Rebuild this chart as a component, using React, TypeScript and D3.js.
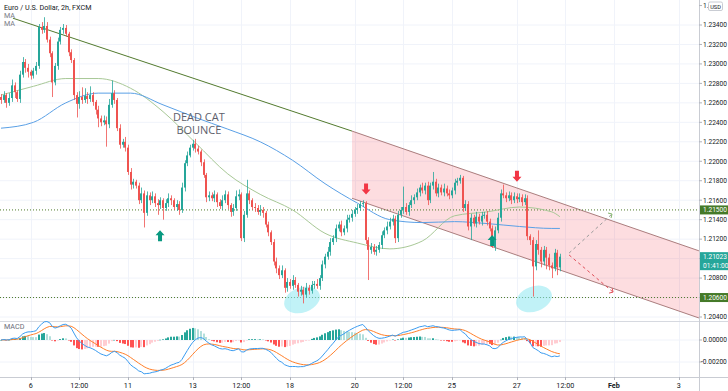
import React from 'react';
import * as d3 from 'd3';

// ---------- DATA ----------
const firstOpen = 1.2266;
const closes = [
  1.2263, 1.2268, 1.2260, 1.2265, 1.2278, 1.2271, 1.2264, 1.2289, 1.2302, 1.2296,
  1.2292, 1.2288, 1.2293, 1.2298, 1.2338, 1.2335, 1.2339, 1.2325, 1.2311, 1.2281,
  1.2298, 1.2323, 1.2335, 1.2337, 1.2331, 1.2312, 1.2304, 1.2268, 1.2259, 1.2266,
  1.2263, 1.2267, 1.2264, 1.2268, 1.2261, 1.2253, 1.2244, 1.2240, 1.2242, 1.2238,
  1.2258, 1.2270, 1.2263, 1.2234, 1.2217, 1.2220, 1.2214, 1.2189, 1.2176, 1.2179,
  1.2175, 1.2160, 1.2167, 1.2147, 1.2165, 1.2160, 1.2164, 1.2157, 1.2155, 1.2160,
  1.2152, 1.2157, 1.2162, 1.2160, 1.2153, 1.2156, 1.2150, 1.2173, 1.2198, 1.2206,
  1.2214, 1.2218, 1.2213, 1.2210, 1.2199, 1.2186, 1.2163, 1.2165, 1.2162, 1.2166,
  1.2158, 1.2154, 1.2160, 1.2166, 1.2155, 1.2148, 1.2152, 1.2164, 1.2166, 1.2121,
  1.2145, 1.2167, 1.2160, 1.2153, 1.2152, 1.2148, 1.2150, 1.2147, 1.2135, 1.2127,
  1.2117, 1.2097, 1.2090, 1.2083, 1.2088, 1.2070, 1.2076, 1.2072, 1.2078, 1.2073,
  1.2066, 1.2068, 1.2063, 1.2070, 1.2067, 1.2073, 1.2074, 1.2072, 1.2080, 1.2094,
  1.2102, 1.2107, 1.2117, 1.2121, 1.2131, 1.2135, 1.2127, 1.2131, 1.2140, 1.2142,
  1.2146, 1.2150, 1.2152, 1.2156, 1.2157, 1.2119, 1.2109, 1.2112, 1.2107, 1.2109,
  1.2114, 1.2124, 1.2129, 1.2133, 1.2138, 1.2141, 1.2121, 1.2145, 1.2150, 1.2153,
  1.2148, 1.2155, 1.2160, 1.2163, 1.2168, 1.2173, 1.2170, 1.2175, 1.2160, 1.2175,
  1.2179, 1.2167, 1.2173, 1.2168, 1.2172, 1.2167, 1.2165, 1.2170, 1.2178, 1.2180,
  1.2183, 1.2152, 1.2156, 1.2133, 1.2142, 1.2136, 1.2143, 1.2138, 1.2144, 1.2145,
  1.2138, 1.2131, 1.2112, 1.2129, 1.2142, 1.2167, 1.2165, 1.2162, 1.2165, 1.2160,
  1.2164, 1.2161, 1.2163, 1.2158, 1.2162, 1.2123, 1.2119, 1.2092, 1.2115, 1.2109,
  1.2097, 1.2109, 1.2101, 1.2093, 1.2090, 1.2106, 1.2091, 1.2102,
];
// wick lengths in pips above the body top / below the body bottom
const wickUp = [
  3, 4, 2, 5, 6, 3, 2, 4, 5, 3, 4, 2, 3, 4, 3, 5, 9, 4, 3, 2,
  3, 4, 3, 4, 3, 2, 3, 2, 3, 6, 10, 8, 4, 9, 3, 2, 4, 3, 5, 4,
  6, 13, 3, 2, 4, 3, 5, 3, 4, 3, 2, 3, 6, 3, 4, 3, 5, 3, 4, 3,
  2, 4, 5, 3, 2, 4, 3, 5, 3, 4, 3, 4, 5, 3, 2, 3, 2, 4, 3, 4,
  2, 3, 5, 4, 3, 2, 4, 6, 5, 2, 4, 14, 3, 2, 4, 3, 5, 3, 2, 3,
  2, 3, 4, 3, 5, 2, 4, 3, 5, 3, 2, 4, 3, 5, 3, 4, 3, 5, 3, 4,
  3, 5, 4, 3, 4, 3, 4, 3, 5, 3, 4, 3, 4, 3, 3, 2, 3, 4, 3, 4,
  3, 4, 3, 5, 4, 4, 3, 4, 3, 21, 4, 3, 5, 3, 4, 3, 5, 3, 4, 3,
  10, 3, 4, 3, 5, 3, 4, 3, 4, 3, 3, 2, 4, 3, 4, 3, 5, 3, 4, 3,
  4, 3, 3, 4, 5, 4, 9, 3, 4, 3, 4, 3, 4, 3, 4, 3, 2, 3, 4, 14,
  3, 4, 3, 4, 3, 4, 3, 3,
];
const wickDn = [
  4, 3, 5, 3, 4, 6, 3, 4, 3, 5, 6, 4, 3, 4, 3, 4, 3, 3, 4, 15,
  3, 4, 3, 4, 3, 4, 3, 5, 14, 5, 4, 3, 5, 3, 4, 5, 9, 4, 3, 23,
  4, 3, 4, 3, 4, 3, 4, 3, 5, 4, 3, 4, 3, 15, 3, 5, 3, 4, 10, 4,
  12, 3, 4, 5, 3, 4, 5, 3, 4, 3, 2, 3, 4, 3, 4, 3, 5, 4, 3, 4,
  5, 3, 4, 3, 4, 5, 4, 3, 4, 3, 4, 3, 4, 3, 4, 3, 4, 5, 3, 4,
  3, 4, 5, 4, 3, 5, 4, 3, 4, 3, 5, 4, 9, 3, 4, 3, 4, 3, 4, 3,
  4, 3, 4, 3, 4, 3, 4, 3, 4, 3, 4, 3, 4, 3, 3, 4, 31, 4, 3, 4,
  3, 4, 3, 4, 3, 4, 5, 4, 3, 4, 3, 4, 3, 4, 3, 4, 3, 4, 5, 3,
  4, 3, 4, 3, 4, 3, 4, 3, 4, 3, 3, 4, 3, 4, 14, 3, 4, 3, 4, 3,
  4, 3, 1, 4, 3, 4, 3, 4, 3, 4, 3, 4, 3, 4, 3, 4, 5, 31, 4, 5,
  6, 4, 12, 5, 10, 3, 8, 4,
];

const maBars = [0, 12, 24, 36, 48, 60, 72, 84, 96, 108, 120, 132, 144, 156, 168, 180, 192, 204, 207];
const maFast = [1.2268, 1.2277, 1.2285, 1.2285, 1.2275, 1.2251, 1.2219, 1.2187, 1.2166, 1.2150, 1.2126, 1.2116, 1.2110, 1.2118, 1.2144, 1.2148, 1.2153, 1.2148, 1.2143];
const maSlow = [1.2234, 1.2240, 1.2260, 1.2270, 1.2270, 1.2258, 1.2245, 1.2233, 1.2220, 1.2201, 1.2177, 1.2157, 1.2140, 1.2137, 1.2138, 1.2136, 1.2133, 1.2131, 1.2131];

const priceTicks = [1.204, 1.206, 1.208, 1.21, 1.212, 1.214, 1.216, 1.218, 1.22, 1.222, 1.224, 1.226, 1.228, 1.23, 1.232, 1.234];
const topTickLabel = '1.';
const macdTicks = [0, -0.002];
const timeTickBars = [11, 29, 47, 71, 89, 107, 131, 149, 167, 191, 209, 227, 251];
const timeTickLabels = ['6', '12:00', '11', '13', '12:00', '18', '20', '12:00', '25', '27', '12:00', 'Feb', '3'];

const levelPrices = [1.215, 1.206];
const levelLabels = ['1.21500', '1.20600'];
const lastPriceLabel = '1.21023';
const countdownLabel = '01:41:00';

// drawings (bar index, price)
const trendLine = [[4.4, 1.2347], [130, 1.2231]];
const channelUpper = [[130, 1.2231], [258.5, 1.2108]];
const channelLower = [[130, 1.2162], [258.5, 1.2039]];
const sellArrows = [[135.2, 1.2171], [191.1, 1.2184]];
const buyArrows = [[58.9, 1.2124], [181.9, 1.2119]];
const ellipses = [[111.5, 1.20575], [197.4, 1.20585]];
const projUp = [[210.4, 1.21057], [226.3, 1.21458]];
const projDown = [[210.4, 1.21037], [226.7, 1.20656]];
const noteAnchor = [73.3, 1.22415];
const noteLines = ['DEAD CAT', 'BOUNCE'];

// ---------- HELPERS ----------
function ema(arr: number[], n: number) {
  const k = 2 / (n + 1);
  let e = arr[0];
  return arr.map((v) => (e = v * k + e * (1 - k)));
}

const FONT = 'Roboto, "Noto Sans", sans-serif';
const TEAL = '#26a69a';
const RED = '#ef5350';
const AX_FS = 6.6;

export default function App() {
  const W = 728;
  const H = 391;
  const axisX = 699;
  const mainBottom = 321;
  const macdBottom = 377;

  const x = d3.scaleLinear().domain([0, 100]).range([1, 271]);
  const y = d3.scaleLinear().domain([1.204, 1.234]).range([317, 25]);
  const ym = d3.scaleLinear().domain([-0.002, 0]).range([362, 340]);

  const opens = closes.map((c, i) => (i === 0 ? firstOpen : closes[i - 1]));
  const highs = closes.map((c, i) => Math.max(c, opens[i]) + wickUp[i] * 0.0001);
  const lows = closes.map((c, i) => Math.min(c, opens[i]) - wickDn[i] * 0.0001);

  const e12 = ema(closes, 12);
  const e26 = ema(closes, 26);
  const macd = e12.map((v, i) => v - e26[i]);
  const signal = ema(macd, 9);
  const hist = macd.map((v, i) => v - signal[i]);

  const maLine = d3
    .line<number>()
    .x((_, i) => x(maBars[i]))
    .y((v) => y(v))
    .curve(d3.curveMonotoneX);
  const macdLine = d3
    .line<number>()
    .x((_, i) => x(i))
    .y((v) => ym(v));

  const pt = (p: number[]) => [x(p[0]), y(p[1])];

  const chan = [pt(channelUpper[0]), pt(channelUpper[1]), pt(channelLower[1]), pt(channelLower[0])];

  const downArrow = (cx: number, cy: number) =>
    `M${cx - 2},${cy - 6}L${cx + 2},${cy - 6}L${cx + 2},${cy}L${cx + 4.5},${cy}L${cx},${cy + 5}L${cx - 4.5},${cy}L${cx - 2},${cy}Z`;
  const upArrow = (cx: number, cy: number) =>
    `M${cx - 2},${cy + 6}L${cx + 2},${cy + 6}L${cx + 2},${cy}L${cx + 4.5},${cy}L${cx},${cy - 5}L${cx - 4.5},${cy}L${cx - 2},${cy}Z`;

  const histColor = (i: number) => {
    const h = hist[i];
    const prev = i > 0 ? hist[i - 1] : 0;
    if (h >= 0) return h >= prev ? '#26a69a' : '#b2dfdb';
    return h < prev ? '#ff5252' : '#ffcdd2';
  };

  const [pu0, pu1] = [pt(projUp[0]), pt(projUp[1])];
  const [pd0, pd1] = [pt(projDown[0]), pt(projDown[1])];
  const lastY = y(closes[closes.length - 1]);

  // tick labels hidden behind the axis tags
  const tagSpans = [
    ...levelPrices.map((p) => [y(p) - 4.5, y(p) + 4.5]),
    [lastY - 4.5, lastY + 14],
  ];
  const hiddenTick = (p: number) => tagSpans.some(([a, b]) => y(p) > a - 4 && y(p) < b + 4);

  return (
    <svg
      width={W}
      height={H}
      style={{ position: 'absolute', left: 0, top: 0, background: '#fff' }}
      fontFamily={FONT}
    >
      <defs>
        <clipPath id="mainClip">
          <rect x={0} y={0} width={axisX} height={mainBottom} />
        </clipPath>
        <clipPath id="macdClip">
          <rect x={0} y={mainBottom} width={axisX} height={macdBottom - mainBottom} />
        </clipPath>
      </defs>
      <rect x={0} y={0} width={W} height={H} fill="#fff" />

      {/* grid */}
      {priceTicks.map((p) => (
        <line key={'hg' + p} x1={0} x2={axisX} y1={y(p)} y2={y(p)} stroke="#f0f3fa" />
      ))}
      {macdTicks.map((p) => (
        <line key={'mg' + p} x1={0} x2={axisX} y1={ym(p)} y2={ym(p)} stroke="#f0f3fa" />
      ))}
      {timeTickBars.map((b, i) => (
        <line key={'vg' + i} x1={Math.round(x(b)) + 0.5} x2={Math.round(x(b)) + 0.5} y1={0} y2={macdBottom} stroke="#f0f3fa" />
      ))}

      <g clipPath="url(#mainClip)">
        {/* channel */}
        <polygon points={chan.map((p) => p.join(',')).join(' ')} fill="#f23645" fillOpacity={0.17} />
        <line x1={chan[0][0]} y1={chan[0][1]} x2={chan[1][0]} y2={chan[1][1]} stroke="#a07070" strokeWidth={0.9} />
        <line x1={chan[3][0]} y1={chan[3][1]} x2={chan[2][0]} y2={chan[2][1]} stroke="#a07070" strokeWidth={0.9} />
        {/* trend line */}
        <line
          x1={x(trendLine[0][0])}
          y1={y(trendLine[0][1])}
          x2={x(trendLine[1][0])}
          y2={y(trendLine[1][1])}
          stroke="#527a2e"
          strokeWidth={1}
        />
        {/* horizontal levels */}
        {levelPrices.map((p) => (
          <line key={'lv' + p} x1={0} x2={axisX} y1={y(p)} y2={y(p)} stroke="#4f7a2a" strokeDasharray="1 2" strokeWidth={1} />
        ))}
        {/* ellipses */}
        {ellipses.map((e, i) => (
          <ellipse
            key={'el' + i}
            cx={x(e[0])}
            cy={y(e[1])}
            rx={18.5}
            ry={12.5}
            transform={`rotate(-20 ${x(e[0])} ${y(e[1])})`}
            fill="#8ee8f0"
            fillOpacity={0.55}
          />
        ))}
        {/* moving averages */}
        <path d={maLine(maFast) || ''} fill="none" stroke="#a8c896" strokeWidth={1} />
        <path d={maLine(maSlow) || ''} fill="none" stroke="#5aa0e6" strokeWidth={1} />
        {/* candles */}
        {closes.map((c, i) => {
          const o = opens[i];
          const up = c >= o;
          const col = up ? TEAL : RED;
          const cx = Math.round(x(i));
          const top = y(Math.max(o, c));
          const bot = y(Math.min(o, c));
          return (
            <g key={'c' + i}>
              <rect x={cx} y={y(highs[i])} width={1} height={Math.max(0.5, y(lows[i]) - y(highs[i]))} fill={col} opacity={0.8} />
              <rect x={cx - 1} y={top} width={2} height={Math.max(1, bot - top)} fill={col} />
            </g>
          );
        })}
        {/* projections */}
        <line x1={pu0[0]} y1={pu0[1]} x2={pu1[0]} y2={pu1[1]} stroke="#9a9a9a" strokeDasharray="3 3" strokeWidth={1} />
        <path d={`M${pu1[0] - 4},${pu1[1] - 1}L${pu1[0]},${pu1[1]}L${pu1[0] - 1},${pu1[1] + 4}`} fill="none" stroke="#7fb36a" strokeWidth={1} />
        <line x1={pd0[0]} y1={pd0[1]} x2={pd1[0]} y2={pd1[1]} stroke="#e0505a" strokeDasharray="3 3" strokeWidth={1} />
        <path d={`M${pd1[0] - 4},${pd1[1] + 1}L${pd1[0]},${pd1[1]}L${pd1[0] - 1},${pd1[1] - 4}`} fill="none" stroke="#e0505a" strokeWidth={1} />
        {/* arrows */}
        {sellArrows.map((a, i) => (
          <path key={'sa' + i} d={downArrow(x(a[0]), y(a[1]))} fill="#f23645" />
        ))}
        {buyArrows.map((a, i) => (
          <path key={'ba' + i} d={upArrow(x(a[0]), y(a[1]))} fill="#089981" />
        ))}
        {/* note */}
        <text
          x={x(noteAnchor[0])}
          y={y(noteAnchor[1])}
          textAnchor="middle"
          fontSize={11}
          fontFamily='"Open Sans", sans-serif'
          fill="#5d606b"
        >
          {noteLines.map((t, i) => (
            <tspan key={'n' + i} x={x(noteAnchor[0])} dy={i === 0 ? 0 : 13}>
              {t}
            </tspan>
          ))}
        </text>
      </g>

      {/* MACD pane */}
      <line x1={0} x2={W} y1={mainBottom + 0.5} y2={mainBottom + 0.5} stroke="#d6d9e0" />
      <g clipPath="url(#macdClip)">
        {hist.map((h, i) => {
          const cx = Math.round(x(i));
          const y0 = ym(0);
          const y1 = ym(h);
          return (
            <rect key={'h' + i} x={cx - 1} y={Math.min(y0, y1)} width={2} height={Math.max(0.5, Math.abs(y1 - y0))} fill={histColor(i)} />
          );
        })}
        <path d={macdLine(signal) || ''} fill="none" stroke="#ff7f2a" strokeWidth={1} />
        <path d={macdLine(macd) || ''} fill="none" stroke="#3b9cf0" strokeWidth={1} />
      </g>
      <text x={4} y={329} fontSize={7.2} fill="#6a6d78">
        MACD
      </text>

      {/* x axis */}
      <line x1={0} x2={W} y1={macdBottom + 0.5} y2={macdBottom + 0.5} stroke="#c9ccd3" />
      {timeTickBars.map((b, i) => (
        <g key={'xt' + i}>
          <line x1={Math.round(x(b)) + 0.5} x2={Math.round(x(b)) + 0.5} y1={macdBottom} y2={macdBottom + 3} stroke="#b0b3bb" />
          <text
            x={x(b)}
            y={388}
            textAnchor="middle"
            fontSize={7.2}
            fill="#131722"
            fontWeight={timeTickLabels[i] === 'Feb' ? 700 : 400}
          >
            {timeTickLabels[i]}
          </text>
        </g>
      ))}

      {/* y axis */}
      <line x1={axisX + 0.5} x2={axisX + 0.5} y1={0} y2={H} stroke="#c9ccd3" />
      {priceTicks.map((p) => (
        <g key={'yt' + p}>
          <line x1={axisX} x2={axisX + 3} y1={y(p)} y2={y(p)} stroke="#b0b3bb" />
          {!hiddenTick(p) && (
            <text x={703} y={y(p) + 2.3} fontSize={AX_FS} fill="#131722">
              {p.toFixed(5)}
            </text>
          )}
        </g>
      ))}
      <line x1={axisX} x2={axisX + 3} y1={y(1.236)} y2={y(1.236)} stroke="#b0b3bb" />
      <text x={703} y={y(1.236) + 2.3} fontSize={AX_FS} fill="#131722">
        {topTickLabel}
      </text>
      {macdTicks.map((p) => (
        <g key={'mt' + p}>
          <line x1={axisX} x2={axisX + 3} y1={ym(p)} y2={ym(p)} stroke="#b0b3bb" />
          <text x={p < 0 ? 701 : 703} y={ym(p) + 2.3} fontSize={AX_FS} fill="#131722">
            {p === 0 ? '0.00000' : p.toFixed(5)}
          </text>
        </g>
      ))}
      {/* level labels */}
      {levelPrices.map((p, i) => (
        <g key={'ll' + p}>
          <rect x={axisX + 1} y={y(p) - 4.5} width={W - axisX - 1} height={9} fill="#457a29" />
          <text x={703} y={y(p) + 2.3} fontSize={AX_FS} fill="#fff">
            {levelLabels[i]}
          </text>
        </g>
      ))}
      <rect x={axisX + 1} y={lastY - 4.5} width={W - axisX - 1} height={18} fill={TEAL} />
      <text x={703} y={lastY + 2.2} fontSize={AX_FS} fill="#fff">
        {lastPriceLabel}
      </text>
      <text x={703} y={lastY + 11.2} fontSize={AX_FS} fill="#fff">
        {countdownLabel}
      </text>
      <rect x={708.5} y={2} width={14} height={8.5} fill="#fff" stroke="#c9ccd3" rx={1.5} />
      <text x={715.5} y={8.5} fontSize={5.6} textAnchor="middle" fill="#131722">
        USD
      </text>

      {/* legend */}
      <text x={4} y={9.5} fontSize={7.2} fill="#131722">
        Euro / U.S. Dollar, 2h, FXCM
      </text>
      <text x={4} y={17.5} fontSize={7.2} fill="#787b86">
        MA
      </text>
      <text x={4} y={25.5} fontSize={7.2} fill="#787b86">
        MA
      </text>
    </svg>
  );
}
